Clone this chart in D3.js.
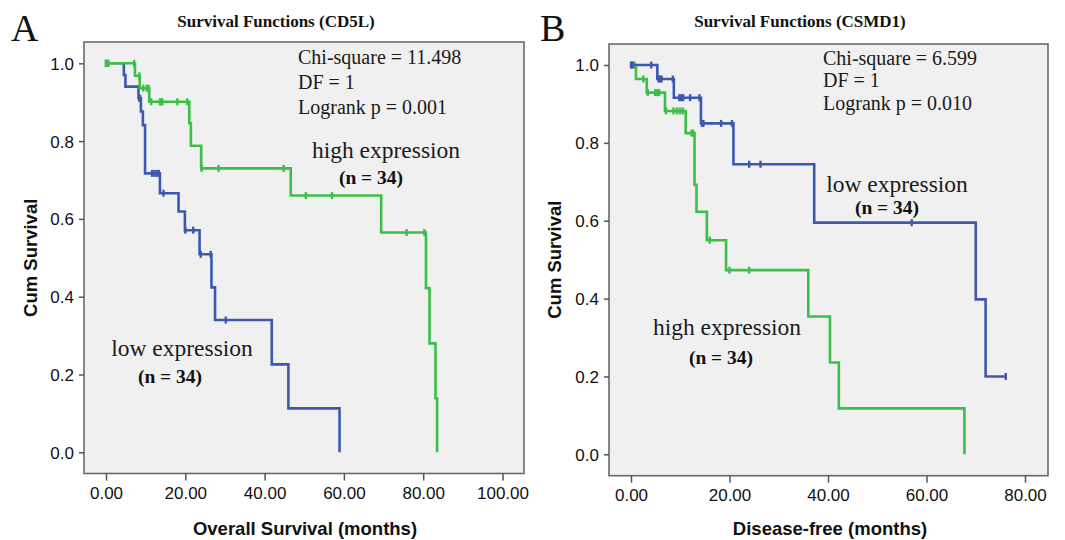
<!DOCTYPE html>
<html><head><meta charset="utf-8">
<script src="https://cdn.jsdelivr.net/npm/d3@7"></script>
<style>body{margin:0;background:#fff}</style>
</head><body>
<svg id="c" width="1065" height="540"></svg>
<script>
// ---------- Data ----------
// Panel A: CD5L, overall survival (months)
const aLowTimes   = [0, 4.5, 4.9, 8.2, 8.8, 9.3, 9.85, 13.6, 18.3, 19.9, 23.6, 26.6, 27.5, 41.8, 46.0, 58.9];
const aLowSurv    = [1.0, 0.970, 0.940, 0.910, 0.876, 0.841, 0.717, 0.666, 0.619, 0.571, 0.509, 0.424, 0.340, 0.226, 0.113, 0.0];
const aLowCensor  = [0.0, 0.3, 8.4, 8.6, 11.6, 12.2, 12.8, 13.3, 14.5, 20.0, 22.0, 23.9, 26.4, 30.2];
const aHighTimes  = [0, 7.3, 8.5, 10.9, 21.0, 21.4, 24.0, 46.6, 69.4, 80.7, 81.6, 83.1, 83.5];
const aHighSurv   = [1.0, 0.968, 0.936, 0.901, 0.846, 0.788, 0.730, 0.660, 0.565, 0.422, 0.280, 0.139, 0.0];
const aHighCensor = [0.0, 0.3, 0.6, 7.1, 8.4, 9.4, 10.3, 10.7, 11.4, 13.6, 13.9, 14.2, 18.0, 20.5, 24.1, 28.4, 44.8, 50.4, 57.0, 75.8, 80.3];
const aXTicks     = [0, 20, 40, 60, 80, 100];
const aStats      = ["Chi-square = 11.498", "DF = 1", "Logrank p = 0.001"];

// Panel B: CSMD1, disease-free (months)
const bLowTimes   = [0, 5.35, 8.7, 14.2, 20.8, 37.2, 70.0, 72.0];
const bLowSurv    = [1.0, 0.964, 0.916, 0.850, 0.745, 0.595, 0.398, 0.200];
const bLowCensor  = [0.0, 0.3, 4.1, 5.6, 5.9, 6.2, 8.5, 9.8, 10.2, 10.6, 12.0, 13.9, 14.4, 14.7, 18.3, 20.5, 24.0, 26.3, 57.0, 76.1];
const bHighTimes  = [0, 1.0, 3.2, 6.9, 11.1, 12.9, 13.3, 15.4, 19.3, 36.0, 40.4, 42.2, 67.7];
const bHighSurv   = [1.0, 0.964, 0.929, 0.882, 0.825, 0.692, 0.623, 0.550, 0.473, 0.354, 0.236, 0.118, 0.0];
const bHighCensor = [0.4, 0.7, 2.5, 3.4, 4.9, 5.3, 5.7, 7.1, 8.6, 9.3, 9.9, 10.5, 12.3, 12.6, 16.0, 20.0, 24.0];
const bXTicks     = [0, 20, 40, 60, 80];
const bStats      = ["Chi-square = 6.599", "DF = 1", "Logrank p = 0.010"];

const yTicks = [0, 0.2, 0.4, 0.6, 0.8, 1.0];
const groupLabels = ["low expression", "high expression"];
const nLabel = "(n = 34)";

// ---------- Styles ----------
const BLUE = "#3d58b0", GREEN = "#3cbf48";
const SERIF = "'Liberation Serif','Times New Roman',serif";
const SANS = "'Liberation Sans',Arial,sans-serif";
const svg = d3.select("#c");

function drawPanel(p) {
  const g = svg.append("g");
  const x = d3.scaleLinear().domain([0, p.xMax]).range([p.x0, p.x1]);
  const y = d3.scaleLinear().domain([0, 1]).range([p.y0, p.y1]);

  g.append("rect").attr("x", p.bx0).attr("y", p.by0)
    .attr("width", p.bx1 - p.bx0).attr("height", p.by1 - p.by0)
    .attr("fill", "#f0f0f0").attr("stroke", "#6a6a6a").attr("stroke-width", 1.6);

  const ax = g.append("g").attr("transform", `translate(0,${p.by1})`)
    .call(d3.axisBottom(x).tickValues(p.xTicks).tickFormat(d3.format(".2f")).tickSize(7).tickPadding(6));
  const ay = g.append("g").attr("transform", `translate(${p.bx0},0)`)
    .call(d3.axisLeft(y).tickValues(yTicks).tickFormat(d3.format(".1f")).tickSize(5).tickPadding(5));
  [ax, ay].forEach(a => {
    a.select(".domain").remove();
    a.selectAll("line").attr("stroke", "#555").attr("stroke-width", 1.5);
    a.selectAll("text").attr("font-family", SANS).attr("font-size", 17).attr("fill", "#111");
  });
  ax.selectAll("text").attr("dy", "0.75em");
  ay.selectAll("text").attr("dy", "0.35em");

  const line = d3.line().x(d => x(d[0])).y(d => y(d[1])).curve(d3.curveStepAfter);
  function curve(times, surv, cens, color) {
    const pts = times.map((t, i) => [t, surv[i]]);
    const tEnd = Math.max(times[times.length - 1], d3.max(cens));
    pts.push([tEnd, surv[surv.length - 1]]);
    g.append("path").attr("d", line(pts)).attr("fill", "none")
      .attr("stroke", color).attr("stroke-width", 2.6).attr("stroke-linejoin", "miter");
    const sAt = c => { let s = 1; times.forEach((t, i) => { if (t <= c) s = surv[i]; }); return s; };
    g.selectAll(null).data(cens).join("line")
      .attr("x1", d => x(d)).attr("x2", d => x(d))
      .attr("y1", d => y(sAt(d)) - 3.5).attr("y2", d => y(sAt(d)) + 3.5)
      .attr("stroke", color).attr("stroke-width", 2.4);
  }
  p.order.forEach(k => curve(...p.curves[k]));

  // panel letter & title
  g.append("text").attr("x", p.letterX).attr("y", 41).text(p.letter)
    .attr("font-family", SERIF).attr("font-size", 38).attr("fill", "#111");
  g.append("text").attr("x", p.titleX).attr("y", 27).attr("text-anchor", "middle").text(p.title)
    .attr("font-family", SERIF).attr("font-weight", "bold").attr("font-size", 17).attr("fill", "#111");
  // axis titles
  g.append("text").attr("x", p.xLabX).attr("y", 535).attr("text-anchor", "middle").text(p.xLabel)
    .attr("font-family", SANS).attr("font-weight", "bold").attr("font-size", 18.5).attr("fill", "#111");
  g.append("text").attr("transform", `translate(${p.yLabX},${(p.y0 + p.y1) / 2}) rotate(-90)`)
    .attr("text-anchor", "middle").text("Cum Survival")
    .attr("font-family", SANS).attr("font-weight", "bold").attr("font-size", 18.5).attr("fill", "#111");
  // stats
  p.stats.forEach((s, i) => g.append("text").attr("x", p.statX).attr("y", p.statY[i]).text(s)
    .attr("font-family", SERIF).attr("font-size", 20).attr("fill", "#1a1a1a"));
  // group labels
  p.labels.forEach(l => {
    g.append("text").attr("x", l.x).attr("y", l.y).attr("text-anchor", "middle").text(l.text)
      .attr("font-family", SERIF).attr("font-size", 23.5).attr("fill", "#1a1a1a");
    g.append("text").attr("x", l.nx).attr("y", l.ny).attr("text-anchor", "middle").text(nLabel)
      .attr("font-family", SERIF).attr("font-weight", "bold").attr("font-size", 19.5).attr("fill", "#111");
  });
}

drawPanel({
  letter: "A", letterX: 11, title: "Survival Functions (CD5L)", titleX: 276,
  xLabel: "Overall Survival (months)", xLabX: 305, yLabX: 37,
  bx0: 84, bx1: 524, by0: 42, by1: 473.5,
  x0: 106, x1: 502.5, xMax: 100, y0: 452.3, y1: 63.3, xTicks: aXTicks,
  curves: { low: [aLowTimes, aLowSurv, aLowCensor, BLUE], high: [aHighTimes, aHighSurv, aHighCensor, GREEN] },
  order: ["low", "high"],
  stats: aStats, statX: 298, statY: [64, 89, 114],
  labels: [
    { text: groupLabels[1], x: 386, y: 158, nx: 371, ny: 184 },
    { text: groupLabels[0], x: 182, y: 356, nx: 170, ny: 383 }
  ]
});
drawPanel({
  letter: "B", letterX: 540, title: "Survival Functions (CSMD1)", titleX: 800,
  xLabel: "Disease-free (months)", xLabX: 830, yLabX: 561,
  bx0: 609, bx1: 1048, by0: 44, by1: 475.7,
  x0: 631, x1: 1025, xMax: 80, y0: 454.3, y1: 65, xTicks: bXTicks,
  curves: { low: [bLowTimes, bLowSurv, bLowCensor, BLUE], high: [bHighTimes, bHighSurv, bHighCensor, GREEN] },
  order: ["high", "low"],
  stats: bStats, statX: 823, statY: [65, 87, 110],
  labels: [
    { text: groupLabels[0], x: 897, y: 192, nx: 887, ny: 214 },
    { text: groupLabels[1], x: 727, y: 335, nx: 721, ny: 364 }
  ]
});
</script>
</body></html>
